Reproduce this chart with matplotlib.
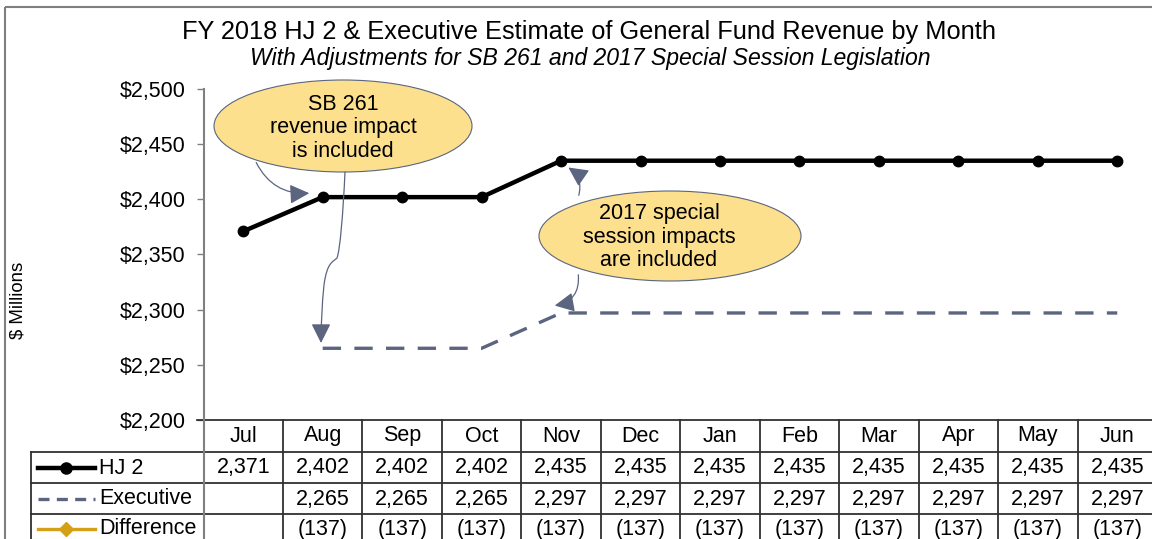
import numpy as np
import matplotlib
matplotlib.use("Agg")
import matplotlib.pyplot as plt
from matplotlib.patches import Ellipse, FancyArrowPatch, Rectangle
from matplotlib.path import Path

plt.rcParams['font.family'] = ['Liberation Sans', 'DejaVu Sans']

months = ['Jul', 'Aug', 'Sep', 'Oct', 'Nov', 'Dec', 'Jan', 'Feb', 'Mar', 'Apr', 'May', 'Jun']
hj2 = [2371, 2402, 2402, 2402, 2435, 2435, 2435, 2435, 2435, 2435, 2435, 2435]
executive = [np.nan, 2265, 2265, 2265, 2297, 2297, 2297, 2297, 2297, 2297, 2297, 2297]
# as printed in the table (unrounded source values)
difference = [np.nan, -137, -137, -137, -137, -137, -137, -137, -137, -137, -137, -137]

series_names = ['HJ 2', 'Executive', 'Difference']
yticks = [2200, 2250, 2300, 2350, 2400, 2450, 2500]

title = 'FY 2018 HJ 2 & Executive Estimate of General Fund Revenue by Month'
subtitle = 'With Adjustments for SB 261 and 2017 Special Session Legislation'

c_hj2 = 'black'
c_exec = '#5b6580'
c_diff = '#d4a017'
c_bubble = '#fce08e'

W, H = 1152, 539
fig = plt.figure(figsize=(W / 100, H / 100), dpi=100)

# plot area (extends past the right edge, as in the cropped original)
x0, x1, ytop, ybot = 203.5, 1157.0, 89.0, 420.0
ax = fig.add_axes([x0 / W, 1 - ybot / H, (x1 - x0) / W, (ybot - ytop) / H])
xs = np.arange(len(months))
ax.plot(xs, hj2, color=c_hj2, lw=3.2, marker='o', ms=7.5, zorder=3)
ax.plot(xs, executive, color=c_exec, lw=2.4, dashes=(5.5, 4), zorder=3)
ax.set_xlim(-0.5, len(months) - 0.5)
ax.set_ylim(2200, 2500)
ax.set_yticks(yticks)
ax.set_yticklabels(['${:,}'.format(v) for v in yticks], fontsize=15.5)
ax.set_xticks([])
ax.tick_params(axis='y', length=5, width=1, color='#808080', pad=8)
for s in ['top', 'right', 'bottom']:
    ax.spines[s].set_visible(False)
ax.spines['left'].set_color('#808080')
ax.spines['left'].set_linewidth(1.2)
ax.patch.set_alpha(0)

# overlay in pixel coordinates for frame, titles, table, callouts
ov = fig.add_axes([0, 0, 1, 1], zorder=5)
ov.set_xlim(0, W)
ov.set_ylim(H, 0)
ov.axis('off')
ov.patch.set_alpha(0)

ov.add_patch(Rectangle((5, 7), W + 20, H + 20, fill=False, ec='#7f7f7f', lw=1.5))
ov.text(589, 32, title, ha='center', va='center', fontsize=18.3)
ov.text(590, 59, subtitle, ha='center', va='center', fontsize=16.6, style='italic')
ov.text(18, 300, '$ Millions', ha='center', va='center', rotation=90, fontsize=13.4)

# data table
fs = 15.5
colw = (x1 - x0) / len(months)
row_y = [420, 452, 483, 514, 545]
lc = '#303030'
ov.plot([197, W + 5], [row_y[0], row_y[0]], color=lc, lw=1.3)
for y in row_y[1:4]:
    ov.plot([31, W + 5], [y, y], color=lc, lw=1.3)
ov.plot([31, 31], [row_y[1], H + 5], color=lc, lw=1.3)
ov.plot([x0, x0], [ytop, H + 5], color='#808080', lw=1.5)
for k in range(1, len(months) + 1):
    xb = x0 + k * colw
    ov.plot([xb, xb], [row_y[0], H + 5], color=lc, lw=1.3)

for i, m in enumerate(months):
    cx = x0 + (i + 0.5) * colw
    ov.text(cx, 436, m, ha='center', va='center', fontsize=fs)
    ov.text(cx, 468, '{:,}'.format(hj2[i]), ha='center', va='center', fontsize=fs)
    if not np.isnan(executive[i]):
        ov.text(cx, 499, '{:,}'.format(int(executive[i])), ha='center', va='center', fontsize=fs)
    if not np.isnan(difference[i]):
        ov.text(cx, 529, '({:,})'.format(int(-difference[i])), ha='center', va='center', fontsize=fs)

# legend keys in the label column
key_y = [468, 499, 529]
ov.plot([38, 95], [key_y[0]] * 2, color=c_hj2, lw=3.2)
ov.plot([66], [key_y[0]], 'o', color=c_hj2, ms=8)
ov.plot([38, 95], [key_y[1]] * 2, color=c_exec, lw=2.4, dashes=(3.3, 2.2))
ov.plot([38, 95], [key_y[2]] * 2, color=c_diff, lw=2.4)
ov.plot([66], [key_y[2]], 'D', color=c_diff, ms=7)
for name, y in zip(series_names, key_y):
    ov.text(99, y, name, ha='left', va='center', fontsize=fs)

# callouts
ov.add_patch(Ellipse((343, 126), 258, 92, fc=c_bubble, ec=c_exec, lw=0.8, zorder=6))
ov.text(343, 128, 'SB 261\nrevenue impact\nis included', ha='center', va='center',
        fontsize=fs, linespacing=1.15, zorder=7)
ov.add_patch(Ellipse((670, 236), 262, 90, fc=c_bubble, ec=c_exec, lw=0.8, zorder=6))
ov.text(659, 237, '2017 special\nsession impacts\nare included', ha='center', va='center',
        fontsize=fs, linespacing=1.15, zorder=7)

arrow_kw = dict(arrowstyle='-|>,head_length=10,head_width=5', color=c_exec, lw=0.9,
                mutation_scale=1.2, zorder=6)
ov.add_patch(FancyArrowPatch((255, 160), (312, 193), connectionstyle='arc3,rad=0.35', **arrow_kw))
wiggle = Path([(345, 172), (343, 215), (340, 250), (337, 258),
               (333, 262), (327, 262), (324, 285),
               (322, 305), (321, 325), (321, 343)],
              [Path.MOVETO, Path.CURVE4, Path.CURVE4, Path.CURVE4,
               Path.CURVE4, Path.CURVE4, Path.CURVE4,
               Path.CURVE4, Path.CURVE4, Path.CURVE4])
ov.add_patch(FancyArrowPatch(path=wiggle, **arrow_kw))
ov.add_patch(FancyArrowPatch((578, 198), (566, 166), connectionstyle='arc3,rad=0.4', **arrow_kw))
ov.add_patch(FancyArrowPatch((578, 272), (552, 306), connectionstyle='arc3,rad=-0.5', **arrow_kw))

fig.savefig('out.png', dpi=100)
